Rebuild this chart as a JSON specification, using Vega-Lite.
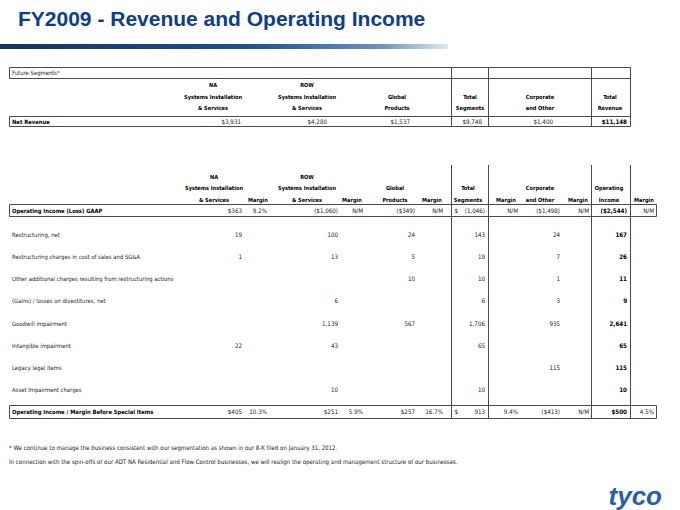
{
  "$schema": "https://vega.github.io/schema/vega-lite/v6.json",
  "width": 680,
  "height": 510,
  "autosize": {"type": "fit", "contains": "padding"},
  "padding": 0,
  "background": "#ffffff",
  "config": {"view": {"stroke": null}},
  "datasets": {
    "grid": [
      {"shape": "swoosh", "x": 0, "x2": 2, "y": 0, "y2": 1},
      {"shape": "box", "x": 1, "x2": 6, "y": 2, "y2": 3},
      {"shape": "box", "x": 1, "x2": 6, "y": 4, "y2": 5},
      {"shape": "box", "x": 1, "x2": 7, "y": 7, "y2": 8},
      {"shape": "box", "x": 1, "x2": 7, "y": 9, "y2": 10},
      {"shape": "line", "x": 3, "y": 2, "y2": 5},
      {"shape": "line", "x": 4, "y": 2, "y2": 5},
      {"shape": "line", "x": 5, "y": 2, "y2": 5},
      {"shape": "line", "x": 6, "y": 2, "y2": 5},
      {"shape": "line", "x": 3, "y": 6, "y2": 10},
      {"shape": "line", "x": 4, "y": 6, "y2": 10},
      {"shape": "line", "x": 5, "y": 6, "y2": 10},
      {"shape": "line", "x": 6, "y": 6, "y2": 10}
    ],
    "notes": [
      {"role": "title", "row": 0, "col": 0, "text": "FY2009 - Revenue and Operating Income"},
      {"role": "footnote", "row": 19, "col": 0, "text": "* We continue to manage the business consistent with our segmentation as shown in our 8-K filed on January 31, 2012."},
      {"role": "footnote", "row": 20, "col": 0, "text": "In connection with the spin-offs of our ADT NA Residential and Flow Control businesses, we will realign the operating and management structure of our businesses."},
      {"role": "logo", "row": 21, "col": 1, "text": "tyco"}
    ],
    "cells": [
      {"tbl": "revenue", "role": "label", "row": 1, "col": 0, "text": "Future Segments*"},
      {"tbl": "revenue", "role": "header", "row": 2, "col": 1, "text": "NA"},
      {"tbl": "revenue", "role": "header", "row": 2, "col": 2, "text": "ROW"},
      {"tbl": "revenue", "role": "header", "row": 3, "col": 1, "text": "Systems Installation"},
      {"tbl": "revenue", "role": "header", "row": 3, "col": 2, "text": "Systems Installation"},
      {"tbl": "revenue", "role": "header", "row": 3, "col": 3, "text": "Global"},
      {"tbl": "revenue", "role": "header", "row": 3, "col": 4, "text": "Total"},
      {"tbl": "revenue", "role": "header", "row": 3, "col": 5, "text": "Corporate"},
      {"tbl": "revenue", "role": "header", "row": 3, "col": 6, "text": "Total"},
      {"tbl": "revenue", "role": "header", "row": 4, "col": 1, "text": "& Services"},
      {"tbl": "revenue", "role": "header", "row": 4, "col": 2, "text": "& Services"},
      {"tbl": "revenue", "role": "header", "row": 4, "col": 3, "text": "Products"},
      {"tbl": "revenue", "role": "header", "row": 4, "col": 4, "text": "Segments"},
      {"tbl": "revenue", "role": "header", "row": 4, "col": 5, "text": "and Other"},
      {"tbl": "revenue", "role": "header", "row": 4, "col": 6, "text": "Revenue"},
      {"tbl": "revenue", "role": "label", "row": 5, "col": 0, "text": "Net Revenue"},
      {"tbl": "revenue", "role": "value", "row": 5, "col": 1, "text": "$3,931"},
      {"tbl": "revenue", "role": "value", "row": 5, "col": 2, "text": "$4,280"},
      {"tbl": "revenue", "role": "value", "row": 5, "col": 3, "text": "$1,537"},
      {"tbl": "revenue", "role": "value", "row": 5, "col": 4, "text": "$9,748"},
      {"tbl": "revenue", "role": "value", "row": 5, "col": 5, "text": "$1,400"},
      {"tbl": "revenue", "role": "value", "row": 5, "col": 6, "text": "$11,148"},

      {"tbl": "income", "role": "header", "row": 6, "col": 1, "text": "NA"},
      {"tbl": "income", "role": "header", "row": 6, "col": 3, "text": "ROW"},
      {"tbl": "income", "role": "header", "row": 7, "col": 1, "text": "Systems Installation"},
      {"tbl": "income", "role": "header", "row": 7, "col": 3, "text": "Systems Installation"},
      {"tbl": "income", "role": "header", "row": 7, "col": 5, "text": "Global"},
      {"tbl": "income", "role": "header", "row": 7, "col": 8, "text": "Total"},
      {"tbl": "income", "role": "header", "row": 7, "col": 10, "text": "Corporate"},
      {"tbl": "income", "role": "header", "row": 7, "col": 12, "text": "Operating"},
      {"tbl": "income", "role": "header", "row": 8, "col": 1, "text": "& Services"},
      {"tbl": "income", "role": "header", "row": 8, "col": 2, "text": "Margin"},
      {"tbl": "income", "role": "header", "row": 8, "col": 3, "text": "& Services"},
      {"tbl": "income", "role": "header", "row": 8, "col": 4, "text": "Margin"},
      {"tbl": "income", "role": "header", "row": 8, "col": 5, "text": "Products"},
      {"tbl": "income", "role": "header", "row": 8, "col": 6, "text": "Margin"},
      {"tbl": "income", "role": "header", "row": 8, "col": 8, "text": "Segments"},
      {"tbl": "income", "role": "header", "row": 8, "col": 9, "text": "Margin"},
      {"tbl": "income", "role": "header", "row": 8, "col": 10, "text": "and Other"},
      {"tbl": "income", "role": "header", "row": 8, "col": 11, "text": "Margin"},
      {"tbl": "income", "role": "header", "row": 8, "col": 12, "text": "Income"},
      {"tbl": "income", "role": "header", "row": 8, "col": 13, "text": "Margin"},

      {"tbl": "income", "role": "label", "row": 9, "col": 0, "text": "Operating Income (Loss) GAAP"},
      {"tbl": "income", "role": "value", "row": 9, "col": 1, "text": "$363"},
      {"tbl": "income", "role": "value", "row": 9, "col": 2, "text": "9.2%"},
      {"tbl": "income", "role": "value", "row": 9, "col": 3, "text": "($1,060)"},
      {"tbl": "income", "role": "value", "row": 9, "col": 4, "text": "N/M"},
      {"tbl": "income", "role": "value", "row": 9, "col": 5, "text": "($349)"},
      {"tbl": "income", "role": "value", "row": 9, "col": 6, "text": "N/M"},
      {"tbl": "income", "role": "value", "row": 9, "col": 7, "text": "$"},
      {"tbl": "income", "role": "value", "row": 9, "col": 8, "text": "(1,046)"},
      {"tbl": "income", "role": "value", "row": 9, "col": 9, "text": "N/M"},
      {"tbl": "income", "role": "value", "row": 9, "col": 10, "text": "($1,498)"},
      {"tbl": "income", "role": "value", "row": 9, "col": 11, "text": "N/M"},
      {"tbl": "income", "role": "value", "row": 9, "col": 12, "text": "($2,544)"},
      {"tbl": "income", "role": "value", "row": 9, "col": 13, "text": "N/M"},

      {"tbl": "income", "role": "label", "row": 10, "col": 0, "text": "Restructuring, net"},
      {"tbl": "income", "role": "value", "row": 10, "col": 1, "text": "19"},
      {"tbl": "income", "role": "value", "row": 10, "col": 3, "text": "100"},
      {"tbl": "income", "role": "value", "row": 10, "col": 5, "text": "24"},
      {"tbl": "income", "role": "value", "row": 10, "col": 8, "text": "143"},
      {"tbl": "income", "role": "value", "row": 10, "col": 10, "text": "24"},
      {"tbl": "income", "role": "value", "row": 10, "col": 12, "text": "167"},

      {"tbl": "income", "role": "label", "row": 11, "col": 0, "text": "Restructuring charges in cost of sales and SG&A"},
      {"tbl": "income", "role": "value", "row": 11, "col": 1, "text": "1"},
      {"tbl": "income", "role": "value", "row": 11, "col": 3, "text": "13"},
      {"tbl": "income", "role": "value", "row": 11, "col": 5, "text": "5"},
      {"tbl": "income", "role": "value", "row": 11, "col": 8, "text": "19"},
      {"tbl": "income", "role": "value", "row": 11, "col": 10, "text": "7"},
      {"tbl": "income", "role": "value", "row": 11, "col": 12, "text": "26"},

      {"tbl": "income", "role": "label", "row": 12, "col": 0, "text": "Other additional charges resulting from restructuring actions"},
      {"tbl": "income", "role": "value", "row": 12, "col": 5, "text": "10"},
      {"tbl": "income", "role": "value", "row": 12, "col": 8, "text": "10"},
      {"tbl": "income", "role": "value", "row": 12, "col": 10, "text": "1"},
      {"tbl": "income", "role": "value", "row": 12, "col": 12, "text": "11"},

      {"tbl": "income", "role": "label", "row": 13, "col": 0, "text": "(Gains) / losses on divestitures, net"},
      {"tbl": "income", "role": "value", "row": 13, "col": 3, "text": "6"},
      {"tbl": "income", "role": "value", "row": 13, "col": 8, "text": "6"},
      {"tbl": "income", "role": "value", "row": 13, "col": 10, "text": "3"},
      {"tbl": "income", "role": "value", "row": 13, "col": 12, "text": "9"},

      {"tbl": "income", "role": "label", "row": 14, "col": 0, "text": "Goodwill impairment"},
      {"tbl": "income", "role": "value", "row": 14, "col": 3, "text": "1,139"},
      {"tbl": "income", "role": "value", "row": 14, "col": 5, "text": "567"},
      {"tbl": "income", "role": "value", "row": 14, "col": 8, "text": "1,706"},
      {"tbl": "income", "role": "value", "row": 14, "col": 10, "text": "935"},
      {"tbl": "income", "role": "value", "row": 14, "col": 12, "text": "2,641"},

      {"tbl": "income", "role": "label", "row": 15, "col": 0, "text": "Intangible impairment"},
      {"tbl": "income", "role": "value", "row": 15, "col": 1, "text": "22"},
      {"tbl": "income", "role": "value", "row": 15, "col": 3, "text": "43"},
      {"tbl": "income", "role": "value", "row": 15, "col": 8, "text": "65"},
      {"tbl": "income", "role": "value", "row": 15, "col": 12, "text": "65"},

      {"tbl": "income", "role": "label", "row": 16, "col": 0, "text": "Legacy legal items"},
      {"tbl": "income", "role": "value", "row": 16, "col": 10, "text": "115"},
      {"tbl": "income", "role": "value", "row": 16, "col": 12, "text": "115"},

      {"tbl": "income", "role": "label", "row": 17, "col": 0, "text": "Asset Impairment charges"},
      {"tbl": "income", "role": "value", "row": 17, "col": 3, "text": "10"},
      {"tbl": "income", "role": "value", "row": 17, "col": 8, "text": "10"},
      {"tbl": "income", "role": "value", "row": 17, "col": 12, "text": "10"},

      {"tbl": "income", "role": "label", "row": 18, "col": 0, "text": "Operating Income / Margin Before Special Items"},
      {"tbl": "income", "role": "value", "row": 18, "col": 1, "text": "$405"},
      {"tbl": "income", "role": "value", "row": 18, "col": 2, "text": "10.3%"},
      {"tbl": "income", "role": "value", "row": 18, "col": 3, "text": "$251"},
      {"tbl": "income", "role": "value", "row": 18, "col": 4, "text": "5.9%"},
      {"tbl": "income", "role": "value", "row": 18, "col": 5, "text": "$257"},
      {"tbl": "income", "role": "value", "row": 18, "col": 6, "text": "16.7%"},
      {"tbl": "income", "role": "value", "row": 18, "col": 7, "text": "$"},
      {"tbl": "income", "role": "value", "row": 18, "col": 8, "text": "913"},
      {"tbl": "income", "role": "value", "row": 18, "col": 9, "text": "9.4%"},
      {"tbl": "income", "role": "value", "row": 18, "col": 10, "text": "($413)"},
      {"tbl": "income", "role": "value", "row": 18, "col": 11, "text": "N/M"},
      {"tbl": "income", "role": "value", "row": 18, "col": 12, "text": "$500"},
      {"tbl": "income", "role": "value", "row": 18, "col": 13, "text": "4.5%"}
    ]
  },
  "resolve": {"scale": {"x": "independent", "y": "independent"}},
  "layer": [
    {
      "data": {"name": "grid"},
      "encoding": {
        "x": {"field": "x", "type": "quantitative", "axis": null,
              "scale": {"domain": [0, 1, 2, 3, 4, 5, 6, 7], "range": [0, 9.5, 448, 451.5, 488.5, 591.5, 630.5, 656.5], "nice": false, "zero": false}},
        "y": {"field": "y", "type": "quantitative", "axis": null,
              "scale": {"domain": [0, 1, 2, 3, 4, 5, 6, 7, 8, 9, 10], "range": [44, 49, 67.5, 78.5, 116.5, 126.5, 165, 204.5, 216.5, 405.5, 418.5], "nice": false, "zero": false}}
      },
      "layer": [
        {
          "transform": [{"filter": "datum.shape === 'swoosh'"}],
          "mark": {"type": "rect", "fill": {"gradient": "linear", "x1": 0, "x2": 1, "y1": 0, "y2": 0,
                    "stops": [{"offset": 0, "color": "#16355f"}, {"offset": 0.55, "color": "#1f4f8c"}, {"offset": 0.85, "color": "#6e93bf"}, {"offset": 1, "color": "#dfe8f2"}]}},
          "encoding": {"x2": {"field": "x2"}, "y2": {"field": "y2"}}
        },
        {
          "transform": [{"filter": "datum.shape === 'box'"}],
          "mark": {"type": "rect", "fill": null, "stroke": "#4a4a4a", "strokeWidth": 1},
          "encoding": {"x2": {"field": "x2"}, "y2": {"field": "y2"}}
        },
        {
          "transform": [{"filter": "datum.shape === 'line'"}],
          "mark": {"type": "rule", "stroke": "#4a4a4a", "strokeWidth": 1},
          "encoding": {"y2": {"field": "y2"}}
        }
      ]
    },
    {
      "encoding": {
        "y": {"field": "row", "type": "quantitative", "axis": null,
              "scale": {"domain": [0, 1, 2, 3, 4, 5, 6, 7, 8, 9, 10, 11, 12, 13, 14, 15, 16, 17, 18, 19, 20, 21],
                        "range": [20, 73, 85, 96.8, 108.3, 121.5, 176.7, 188.3, 199.5, 210.5, 234.5, 256.5, 279, 301, 323.5, 345.5, 368, 390, 412, 448, 462, 497],
                        "nice": false, "zero": false}},
        "text": {"field": "text"}
      },
      "resolve": {"scale": {"x": "independent"}},
      "layer": [
        {
          "encoding": {
            "x": {"field": "col", "type": "quantitative", "axis": null,
                  "scale": {"domain": [0, 1], "range": [12, 662], "nice": false, "zero": false}}
          },
          "layer": [
            {
              "data": {"name": "notes"},
              "transform": [{"filter": "datum.role === 'title'"}],
              "mark": {"type": "text", "align": "left", "baseline": "middle", "dx": 6, "font": "Liberation Sans", "fontWeight": "bold", "fontSize": 21, "fill": "#0b3d91"}
            },
            {
              "data": {"name": "notes"},
              "transform": [{"filter": "datum.role === 'footnote'"}],
              "mark": {"type": "text", "align": "left", "baseline": "middle", "dx": -3, "font": "DejaVu Sans Condensed", "fontSize": 6.1, "fill": "#222222"}
            },
            {
              "data": {"name": "notes"},
              "transform": [{"filter": "datum.role === 'logo'"}],
              "mark": {"type": "text", "align": "right", "baseline": "middle", "font": "Liberation Sans", "fontWeight": "bold", "fontStyle": "italic", "fontSize": 26, "fill": "#2b5fad"}
            },
            {
              "data": {"name": "cells"},
              "transform": [{"filter": "datum.role === 'label' && (datum.row === 5 || datum.row === 9 || datum.row === 18)"}],
              "mark": {"type": "text", "align": "left", "baseline": "middle", "font": "DejaVu Sans Condensed", "fontWeight": "bold", "fontSize": 5.8, "fill": "#000000"}
            },
            {
              "data": {"name": "cells"},
              "transform": [{"filter": "datum.role === 'label' && datum.row !== 5 && datum.row !== 9 && datum.row !== 18"}],
              "mark": {"type": "text", "align": "left", "baseline": "middle", "font": "DejaVu Sans Condensed", "fontSize": 5.9, "fill": "#262626"}
            }
          ]
        },
        {
          "data": {"name": "cells"},
          "transform": [{"filter": "datum.tbl === 'revenue' && datum.role === 'header'"}],
          "mark": {"type": "text", "align": "center", "baseline": "middle", "font": "DejaVu Sans Condensed", "fontWeight": "bold", "fontSize": 5.6, "fill": "#000000"},
          "encoding": {
            "x": {"field": "col", "type": "quantitative", "axis": null,
                  "scale": {"domain": [1, 2, 3, 4, 5, 6], "range": [213, 307, 397, 470, 540, 610], "nice": false, "zero": false}}
          }
        },
        {
          "data": {"name": "cells"},
          "transform": [{"filter": "datum.tbl === 'revenue' && datum.role === 'value'"}],
          "encoding": {
            "x": {"field": "col", "type": "quantitative", "axis": null,
                  "scale": {"domain": [1, 2, 3, 4, 5, 6], "range": [241, 327, 410, 482, 553, 627], "nice": false, "zero": false}}
          },
          "layer": [
            {
              "transform": [{"filter": "datum.col !== 6"}],
              "mark": {"type": "text", "align": "right", "baseline": "middle", "font": "DejaVu Sans Condensed", "fontSize": 6.2, "fill": "#1a1a1a"}
            },
            {
              "transform": [{"filter": "datum.col === 6"}],
              "mark": {"type": "text", "align": "right", "baseline": "middle", "font": "DejaVu Sans Condensed", "fontWeight": "bold", "fontSize": 6.2, "fill": "#000000"}
            }
          ]
        },
        {
          "data": {"name": "cells"},
          "transform": [{"filter": "datum.tbl === 'income' && datum.role === 'header'"}],
          "mark": {"type": "text", "align": "center", "baseline": "middle", "font": "DejaVu Sans Condensed", "fontWeight": "bold", "fontSize": 5.6, "fill": "#000000"},
          "encoding": {
            "x": {"field": "col", "type": "quantitative", "axis": null,
                  "scale": {"domain": [1, 2, 3, 4, 5, 6, 7, 8, 9, 10, 11, 12, 13], "range": [214, 258, 307, 352, 395, 432, 450, 468, 506, 540, 578, 609, 644], "nice": false, "zero": false}}
          }
        },
        {
          "data": {"name": "cells"},
          "transform": [{"filter": "datum.tbl === 'income' && datum.role === 'value'"}],
          "encoding": {
            "x": {"field": "col", "type": "quantitative", "axis": null,
                  "scale": {"domain": [1, 2, 3, 4, 5, 6, 7, 8, 9, 10, 11, 12, 13], "range": [242, 267, 338, 363, 415, 443, 458, 485, 518, 560, 589, 627, 654], "nice": false, "zero": false}}
          },
          "layer": [
            {
              "transform": [{"filter": "datum.col !== 12"}],
              "mark": {"type": "text", "align": "right", "baseline": "middle", "font": "DejaVu Sans Condensed", "fontSize": 6.2, "fill": "#1a1a1a"}
            },
            {
              "transform": [{"filter": "datum.col === 12"}],
              "mark": {"type": "text", "align": "right", "baseline": "middle", "font": "DejaVu Sans Condensed", "fontWeight": "bold", "fontSize": 6.2, "fill": "#000000"}
            }
          ]
        }
      ]
    }
  ]
}
